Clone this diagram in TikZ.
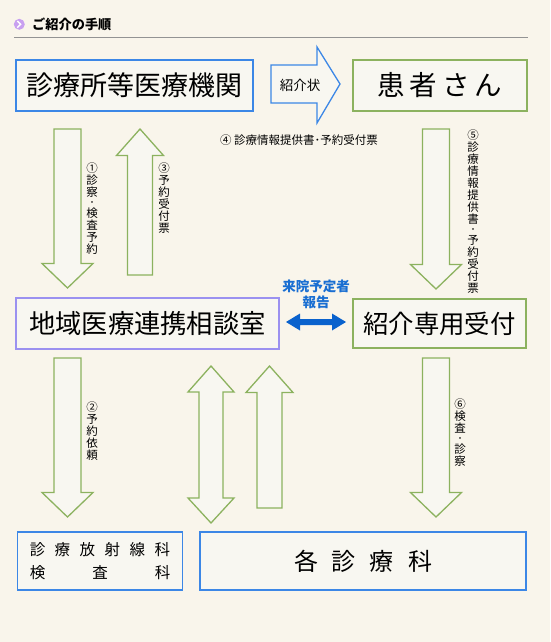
\documentclass[tikz,border=0pt]{standalone}
\usepackage{fontspec}
\setmainfont{Noto Sans CJK JP}
\definecolor{bg}{RGB}{249,245,235}
\definecolor{boxfill}{RGB}{248,247,241}
\definecolor{grn}{RGB}{140,178,95}
\definecolor{blu}{RGB}{60,135,230}
\definecolor{pur}{RGB}{155,145,240}
\definecolor{arrowblue}{RGB}{10,98,205}
\definecolor{labelblue}{RGB}{25,110,210}
\definecolor{iconpur}{RGB}{200,160,240}
\newcommand\fs[1]{\fontsize{#1}{#1}\selectfont}
\newcommand\vdot{\\[-3pt]{\fs{8}・}\\[-0.5pt]}
\newcommand\dnblk[3]{% x, top, tip
  \draw[blockarrow] (#1-13.5,#2) -- (#1+13.5,#2) -- (#1+13.5,#3-24.5) -- (#1+25.5,#3-24.5)
    -- (#1,#3) -- (#1-25.5,#3-24.5) -- (#1-13.5,#3-24.5) -- cycle;}
\newcommand\upblk[3]{% x, tip, bottom
  \draw[blockarrow] (#1,#2) -- (#1+23.5,#2+26.5) -- (#1+12.5,#2+26.5) -- (#1+12.5,#3)
    -- (#1-12.5,#3) -- (#1-12.5,#2+26.5) -- (#1-23.5,#2+26.5) -- cycle;}
\tikzset{
  box/.style={draw, line width=1.3pt, fill=boxfill, inner sep=0pt},
  blockarrow/.style={draw=grn, line width=1.3pt, fill=boxfill, line join=miter},
  vlabel/.style={align=center, inner sep=0pt, anchor=north, font=\fontsize{11.5}{12}\selectfont},
}
\begin{document}
\begin{tikzpicture}[x=1pt,y=-1pt]
\useasboundingbox (0,0) rectangle (550,642);
\fill[bg] (0,0) rectangle (550,642);

% header
\fill[iconpur] (19.3,24.3) circle (5.5);
\draw[white, line width=1.4pt] (17.3,21) -- (20.6,24.3) -- (17.3,27.6);
\node[anchor=west, inner sep=0pt, font=\fs{13.2}\bfseries] (title) at (32,24) {ご紹介の手順};
\draw[gray!85, line width=1.1pt] (14,37.5) -- (528,37.5);

% boxes
\node[box, draw=blu, minimum width=237pt, minimum height=51pt, font=\fs{27}] (clinic) at (134.5,85.5) {診療所等医療機関};
\node[box, draw=grn, minimum width=174pt, minimum height=51pt, font=\fs{27.5}] (patient) at (440,85.5) {患\hspace{5pt}者\hspace{5pt}さ\hspace{5pt}ん};
\node[box, draw=pur, minimum width=263pt, minimum height=51pt, font=\fs{26.3}] (chiiki) at (147.5,323.5) {地域医療連携相談室};
\node[box, draw=grn, minimum width=173pt, minimum height=49pt, font=\fs{25.4}] (uketsuke) at (439.5,323.5) {紹介専用受付};
\node[box, draw=blu, minimum width=165pt, minimum height=58pt, align=center, font=\fontsize{15.5}{23}\selectfont] (hoshasen) at (100,561)
  {診\hspace{9.5pt}療\hspace{9.5pt}放\hspace{9.5pt}射\hspace{9.5pt}線\hspace{9.5pt}科\\\makebox[140.5pt][s]{検\hfill{}査\hfill{}科}};
\node[box, draw=blu, minimum width=326pt, minimum height=58pt, font=\fs{24}] (kaku) at (363,561) {各\hspace{14pt}診\hspace{14pt}療\hspace{14pt}科};

% 紹介状 arrow
\draw[draw=blu, line width=1.3pt, fill=boxfill, line join=miter]
  (271,65) -- (317,65) -- (317,47) -- (340,84) -- (317,123) -- (317,103) -- (271,103) -- cycle;
\node[inner sep=0pt, font=\fs{13.5}] (shokaijo) at (300,85) {紹介状};

% green block arrows
\dnblk{67.5}{129}{288}
\upblk{140}{129}{275}
\dnblk{436}{129}{289}
\dnblk{67.5}{358}{517}
\dnblk{436}{358}{517}
\upblk{269.5}{366}{508}
% double vertical arrow
\draw[blockarrow] (211,366) -- (234,392) -- (223,392) -- (223,498) -- (234,498) -- (211,523)
  -- (188,498) -- (199,498) -- (199,392) -- (188,392) -- cycle;

% labels
\node[inner sep=0pt, font=\fs{11.5}] (l4) at (299,140) {④ 診療情報提供書･予約受付票};
\node[vlabel] (l1) at (92,163) {①\\診\\察\vdot{}検\\査\\予\\約};
\node[vlabel] (l3) at (164,163) {③\\予\\約\\受\\付\\票};
\node[vlabel] (l5) at (473,130) {⑤\\診\\療\\情\\報\\提\\供\\書\vdot{}予\\約\\受\\付\\票};
\node[vlabel] (l2) at (92,402) {②\\予\\約\\依\\頼};
\node[vlabel] (l6) at (460,399) {⑥\\検\\査\vdot{}診\\察};

% blue double arrow + label
\fill[arrowblue] (286,322) -- (300,313.5) -- (300,319) -- (332,319) -- (332,313.5) -- (346,322)
  -- (332,330.5) -- (332,325) -- (300,325) -- (300,330.5) -- cycle;
\node[inner sep=0pt, align=center, text=labelblue, font=\fontsize{13.5}{16}\selectfont\bfseries] (yotei) at (316,294) {来院予定者\\報告};
\end{tikzpicture}
\end{document}
